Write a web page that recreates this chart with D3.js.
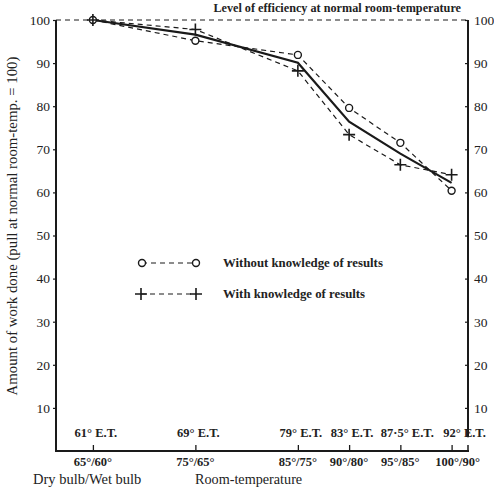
<!DOCTYPE html>
<html>
<head>
<meta charset="utf-8">
<script src="https://cdn.jsdelivr.net/npm/d3@7/dist/d3.min.js"></script>
<style>
  html, body { margin: 0; padding: 0; background: #fff; }
  svg text { font-family: "Liberation Serif", "DejaVu Serif", serif; fill: #222; }
</style>
</head>
<body>
<svg id="chart" width="494" height="487"></svg>
<script>
// Room conditions (dry bulb / wet bulb) and effective temperatures
const dryBulb = [65, 75, 85, 90, 95, 100];
const dryWetLabels = ["65°/60°", "75°/65°", "85°/75°", "90°/80°", "95°/85°", "100°/90°"];
const etLabels = ["61° E.T.", "69° E.T.", "79° E.T.", "83° E.T.", "87·5° E.T.", "92° E.T."];

// Work done, as % of pull at normal room-temperature
const withoutKnowledge = [100, 95.2, 91.9, 79.6, 71.5, 60.4];
const withKnowledge = [100, 97.8, 88.2, 73.4, 66.4, 64.1];
const meanWork = [100, 96.6, 90.1, 76.4, 69.0, 62.2];

const yTicks = [10, 20, 30, 40, 50, 60, 70, 80, 90, 100];

const svg = d3.select("#chart");
const plotLeft = 56, plotRight = 468, plotTop = 20, plotBottom = 451;

const x = d3.scaleLinear().domain([61.4, 101.6]).range([plotLeft, plotRight]);
const y = d3.scaleLinear().domain([0, 100]).range([plotBottom, plotTop]);

const ink = "#1a1a1a";

// Left axis
const yLeft = d3.axisLeft(y).tickValues(yTicks).tickSize(3).tickPadding(3);
const gL = svg.append("g").attr("transform", `translate(${plotLeft},0)`).call(yLeft);
gL.select(".domain").remove();
gL.selectAll("line").attr("stroke", ink).attr("stroke-width", 1.2);
gL.selectAll("text").attr("font-size", 13.5).attr("font-family", "Liberation Serif, serif").attr("fill", "#222");
svg.append("line").attr("x1", plotLeft).attr("x2", plotLeft).attr("y1", y(100)).attr("y2", plotBottom)
  .attr("stroke", ink).attr("stroke-width", 2);

// Right axis
const yRight = d3.axisRight(y).tickValues(yTicks).tickSize(-3).tickPadding(6);
const gR = svg.append("g").attr("transform", `translate(${plotRight},0)`).call(yRight);
gR.select(".domain").remove();
gR.selectAll("line").attr("stroke", ink).attr("stroke-width", 1.2);
gR.selectAll("text").attr("font-size", 13.5).attr("font-family", "Liberation Serif, serif").attr("fill", "#222");
svg.append("line").attr("x1", plotRight).attr("x2", plotRight).attr("y1", y(100)).attr("y2", y(3.2))
  .attr("stroke", ink).attr("stroke-width", 2);

// Bottom axis with upward ticks at each room condition
const xAxis = d3.axisBottom(x).tickValues(dryBulb).tickSize(-6).tickFormat("");
const gB = svg.append("g").attr("transform", `translate(0,${plotBottom})`).call(xAxis);
gB.select(".domain").remove();
gB.selectAll("line").attr("stroke", ink).attr("stroke-width", 1.3);
svg.append("line").attr("x1", plotLeft - 1).attr("x2", plotRight + 1).attr("y1", plotBottom).attr("y2", plotBottom)
  .attr("stroke", ink).attr("stroke-width", 2);
svg.append("line").attr("x1", plotRight).attr("x2", plotRight).attr("y1", plotBottom).attr("y2", plotBottom - 6)
  .attr("stroke", ink).attr("stroke-width", 1.5);

// Effective temperature labels above the axis (nudged right where the
// last few would otherwise crowd each other)
const etNudge = i => (i === 5 ? 13 : i === 4 ? 7 : 3);
svg.append("g").selectAll("text").data(etLabels).join("text")
  .attr("x", (d, i) => x(dryBulb[i]) + etNudge(i))
  .attr("y", plotBottom - 14)
  .attr("text-anchor", "middle").attr("font-size", 12.5).attr("font-weight", "bold")
  .attr("fill", "#333")
  .text(d => d);

// Dry/wet bulb labels below the axis
svg.append("g").selectAll("text").data(dryWetLabels).join("text")
  .attr("x", (d, i) => x(dryBulb[i]) + (i === dryBulb.length - 1 ? 6 : 0))
  .attr("y", plotBottom + 15)
  .attr("text-anchor", "middle").attr("font-size", 12.5).attr("font-weight", "bold")
  .attr("fill", "#333")
  .text(d => d);

svg.append("text").attr("x", 33).attr("y", 484).attr("font-size", 14.5).attr("fill", "#333")
  .text("Dry bulb/Wet bulb");
svg.append("text").attr("x", 195).attr("y", 484).attr("font-size", 14.2).attr("fill", "#333")
  .text("Room-temperature");

// Y axis title
svg.append("text")
  .attr("transform", `translate(17,${226}) rotate(-90)`)
  .attr("text-anchor", "middle").attr("font-size", 14.8).attr("fill", "#222")
  .text("Amount of work done (pull at normal room-temp. = 100)");

// Reference level at 100
svg.append("line").attr("x1", plotLeft).attr("x2", plotRight).attr("y1", y(100)).attr("y2", y(100))
  .attr("stroke", ink).attr("stroke-width", 1).attr("stroke-dasharray", "5,4");
svg.append("text").attr("x", 461).attr("y", 12).attr("text-anchor", "end")
  .attr("font-size", 12.2).attr("font-weight", "bold").attr("fill", "#333")
  .text("Level of efficiency at normal room-temperature");

const line = d3.line().x((d, i) => x(dryBulb[i])).y(d => y(d));

// Series lines
svg.append("path").datum(withoutKnowledge).attr("d", line)
  .attr("fill", "none").attr("stroke", ink).attr("stroke-width", 1.2).attr("stroke-dasharray", "5,4");
svg.append("path").datum(withKnowledge).attr("d", line)
  .attr("fill", "none").attr("stroke", ink).attr("stroke-width", 1.2).attr("stroke-dasharray", "5,4");
svg.append("path").datum(meanWork).attr("d", line)
  .attr("fill", "none").attr("stroke", ink).attr("stroke-width", 2.2);

// Markers
function circleMark(g, cx, cy) {
  g.append("circle").attr("cx", cx).attr("cy", cy).attr("r", 3.5)
    .attr("fill", "#fff").attr("stroke", ink).attr("stroke-width", 1.4);
}
function plusMark(g, cx, cy) {
  g.append("path").attr("d", `M${cx - 6},${cy}H${cx + 6}M${cx},${cy - 6}V${cy + 6}`)
    .attr("stroke", ink).attr("stroke-width", 1.6).attr("fill", "none");
}
const marks = svg.append("g");
withoutKnowledge.forEach((v, i) => circleMark(marks, x(dryBulb[i]), y(v)));
withKnowledge.forEach((v, i) => plusMark(marks, x(dryBulb[i]), y(v)));

// Legend
const legend = svg.append("g");
legend.append("line").attr("x1", 142).attr("x2", 196).attr("y1", 263).attr("y2", 263)
  .attr("stroke", ink).attr("stroke-width", 1.2).attr("stroke-dasharray", "5,4");
circleMark(legend, 142, 263);
circleMark(legend, 196, 263);
legend.append("text").attr("x", 223).attr("y", 267).attr("font-size", 12.8).attr("font-weight", "bold")
  .attr("fill", "#333").text("Without knowledge of results");
legend.append("line").attr("x1", 141).attr("x2", 196).attr("y1", 294).attr("y2", 294)
  .attr("stroke", ink).attr("stroke-width", 1.2).attr("stroke-dasharray", "5,4");
plusMark(legend, 141, 294);
plusMark(legend, 196, 294);
legend.append("text").attr("x", 223).attr("y", 298).attr("font-size", 12.8).attr("font-weight", "bold")
  .attr("fill", "#333").text("With knowledge of results");
</script>
</body>
</html>
